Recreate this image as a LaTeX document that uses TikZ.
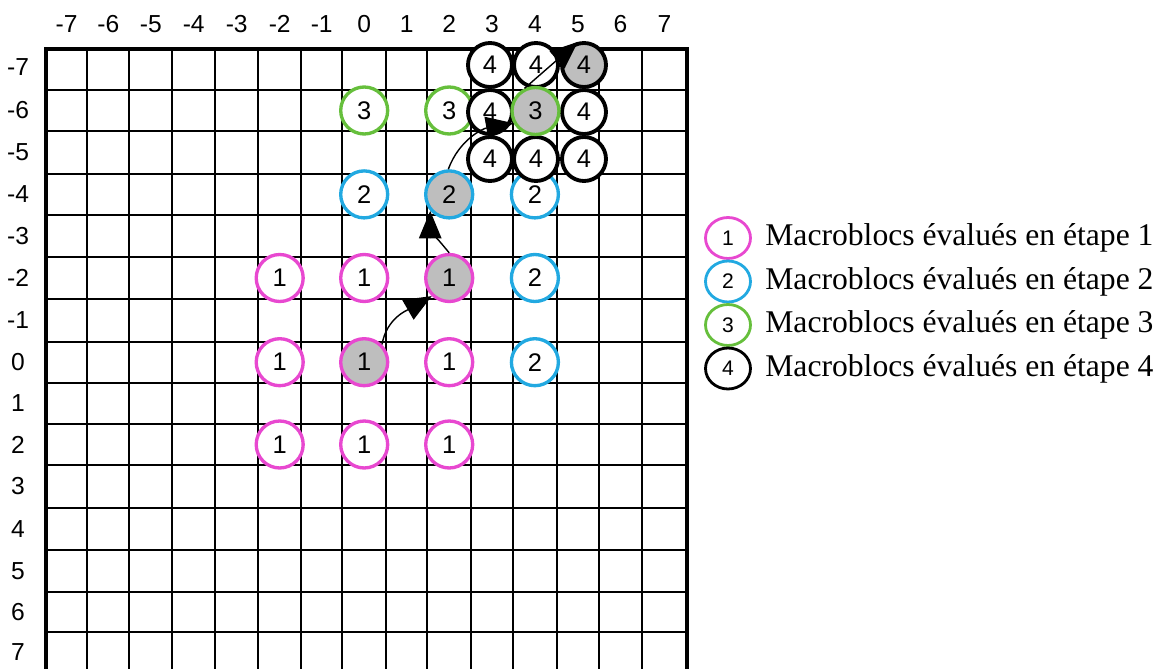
\documentclass[tikz,border=0pt]{standalone}
\usepackage{fontspec}
\setmainfont{Liberation Serif}
\newfontfamily\arialf{Liberation Sans}
\usetikzlibrary{arrows.meta,shapes.geometric}
\definecolor{mpink}{RGB}{232,72,208}
\definecolor{mblue}{RGB}{34,169,225}
\definecolor{mgreen}{RGB}{102,191,60}
\definecolor{mgray}{RGB}{190,190,190}
\begin{document}
\begin{tikzpicture}[x=0.02cm,y=0.02cm,
  gridline/.style={line width=1.1pt},
  border/.style={line width=2.3pt},
  mb/.style={circle, minimum size=0.94cm, inner sep=0pt, line width=1.9pt, fill=white, font=\arialf\fontsize{14.5}{14.5}\selectfont},
  s1/.style={mb, draw=mpink},
  s2/.style={mb, draw=mblue},
  s3/.style={mb, draw=mgreen},
  s4/.style={mb, draw=black, minimum size=0.88cm, line width=2.2pt},
  cur/.style={fill=mgray},
  axl/.style={font=\arialf\fontsize{14}{14}\selectfont, inner sep=0pt},
  lg/.style={ellipse, minimum width=0.9cm, minimum height=0.82cm, inner sep=0pt, line width=1.6pt, font=\arialf\fontsize{12}{12}\selectfont},
  legt/.style={anchor=west, inner sep=0pt, font=\fontsize{18}{18}\selectfont},
  arr/.style={line width=0.8pt, -{Triangle[length=0.55cm,width=0.45cm]}}
]
\useasboundingbox (0,0) rectangle (1164,-669);
\clip (0,0) rectangle (1164,-669);
% grid
\foreach \x in {87.3,129.3,172.3,215,258.3,301,342.3,386,427.3,471,513,556.7,599,642}
  \draw[gridline] (\x,-49) -- (\x,-673);
\foreach \y in {90,131,173.7,215,257.3,298.7,341.7,382.7,424,465,507.7,550,591.7,631.7}
  \draw[gridline] (45.7,-\y) -- (687,-\y);
\draw[border] (45.7,-673) -- (45.7,-49) -- (687,-49) -- (687,-673);
% axis labels
\foreach \v/\x in {-7/66.5,-6/108.3,-5/150.8,-4/193.7,-3/236.7,-2/279.7,-1/321.7,0/364.2,1/406.7,2/449.2,3/492,4/534.9,5/577.9,6/620.5,7/664.5}
  \node[axl] (top\v) at (\x,-24) {\v};
\foreach \v/\y in {-7/67,-6/110,-5/152.4,-4/194.4,-3/236.2,-2/278,-1/320.2,0/362.2,1/403.4,2/444.5,3/486.4,4/528.9,5/570.9,6/611.7,7/652.4}
  \node[axl] (left\v) at (18,-\y) {\v};
% step 1
\node[s1] (a1) at (279.7,-278) {1};
\node[s1] (a2) at (364.2,-278) {1};
\node[s1,cur] (a3) at (449.2,-278) {1};
\node[s1] (a4) at (279.7,-362.2) {1};
\node[s1,cur] (a5) at (364.2,-362.2) {1};
\node[s1] (a6) at (449.2,-362.2) {1};
\node[s1] (a7) at (279.7,-444.5) {1};
\node[s1] (a8) at (364.2,-444.5) {1};
\node[s1] (a9) at (449.2,-444.5) {1};
% step 2
\node[s2] (b1) at (364.2,-194.4) {2};
\node[s2,cur] (b2) at (449.2,-194.4) {2};
\node[s2] (b3) at (534.9,-194.4) {2};
\node[s2] (b4) at (534.9,-278) {2};
\node[s2] (b5) at (534.9,-362.2) {2};
% step 3 (left ones)
\node[s3] (c1) at (364.2,-110.5) {3};
\node[s3] (c2) at (449.2,-110.5) {3};
% step 4
\node[s4] (d1) at (490,-65) {4};
\node[s4] (d2) at (536,-65) {4};
\node[s4,cur] (d3) at (584,-65) {4};
\node[s4] (d4) at (490,-112) {4};
\node[s4] (d5) at (584,-112) {4};
\node[s4] (d6) at (490,-159) {4};
\node[s4] (d7) at (536,-159) {4};
\node[s4] (d8) at (584,-159) {4};
\node[s3,cur] (c3) at (535.5,-111) {3};
% arrows
\draw[arr] (a5.45) to[out=80,in=210] (a3.226);
\draw[arr] (a3.90) to[out=130,in=270] (b2.221);
\draw[arr] (b2.92) to[out=70,in=190] (c3.209);
\draw[arr] (c3.116) -- (d3.105);
% legend
\node[lg, draw=mpink] (l1) at (728,-238) {1};
\node[lg, draw=mblue] (l2) at (728,-281.5) {2};
\node[lg, draw=mgreen] (l3) at (728,-325) {3};
\node[lg, draw=black] (l4) at (728,-368.5) {4};
\node[legt] (t1) at (765,-238) {Macroblocs évalués en étape 1};
\node[legt] (t2) at (765,-281.5) {Macroblocs évalués en étape 2};
\node[legt] (t3) at (765,-325) {Macroblocs évalués en étape 3};
\node[legt] (t4) at (765,-368.5) {Macroblocs évalués en étape 4};
\end{tikzpicture}
\end{document}
